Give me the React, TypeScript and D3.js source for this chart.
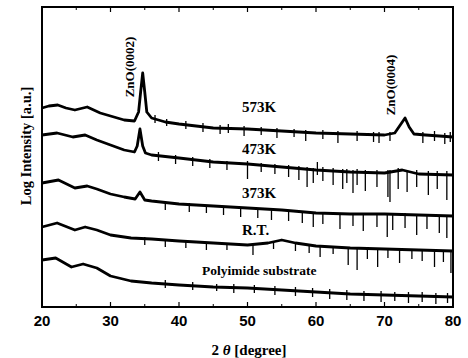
import React from 'react';
import * as d3 from 'd3';

// [2theta, log intensity (a.u.)]
const k573: [number, number][] = [
  [20, 199], [21, 201], [22.3, 202], [23.5, 199], [24.8, 197], [26.6, 200], [28.5, 194],
  [30, 191], [32, 187], [33.5, 186], [34.1, 195], [34.4, 215], [34.7, 234], [35.0, 215],
  [35.3, 195], [36, 189], [38, 185], [40, 183], [45, 179], [50, 178], [55, 176], [60, 174],
  [65, 173], [70, 172], [71.5, 174], [72.3, 182], [73.0, 189], [73.6, 180], [74.3, 173],
  [76, 172], [78, 171], [80, 170],
];
const k473: [number, number][] = [
  [20, 172], [22.2, 174], [24.5, 170], [26.3, 172], [28, 167], [30, 162], [32, 157],
  [33.5, 155], [33.9, 161], [34.3, 178], [34.7, 161], [35.1, 154], [36, 152], [40, 149],
  [45, 145], [50, 143], [55, 140], [60, 137], [65, 135], [70, 134], [72.6, 137], [75, 133],
  [80, 132],
];
const k373: [number, number][] = [
  [20, 124], [22.4, 127], [24.8, 119], [26.6, 121], [28, 118], [30, 113], [32, 110],
  [33.6, 108], [34.3, 115], [35, 107], [36, 106], [40, 103], [45, 101], [50, 99], [55, 97],
  [60, 94], [65, 93], [70, 93], [75, 92], [80, 91],
];
const roomTemp: [number, number][] = [
  [20, 80], [22.2, 84], [24.8, 77], [26.3, 80], [28, 77], [30, 72], [33, 69], [36, 68],
  [40, 66], [45, 64], [50, 62], [53, 64], [55, 67], [57, 64], [60, 61], [65, 59], [70, 58],
  [75, 57], [80, 56],
];
const polyimide: [number, number][] = [
  [20, 47], [22, 49], [24.3, 40], [26, 43], [28, 39], [30, 31], [33, 26], [36, 24],
  [40, 22], [45, 20], [50, 19], [55, 17], [60, 15], [65, 13], [70, 12], [75, 11], [80, 10],
];

// noise spikes: [2theta, low, high]
const spikes573: [number, number, number][] = [
  [36.5, 184, 192], [38.2, 181, 188], [41, 178, 186], [43.5, 175, 184], [46, 173, 182],
  [47.2, 174, 183], [49.5, 171, 181], [52, 172, 180], [54.3, 169, 179], [56.8, 170, 178],
  [58.5, 166, 177], [61, 168, 177], [63.2, 164, 176], [66, 166, 176], [68.4, 165, 175],
  [69.2, 164, 175], [70.8, 166, 175], [75.6, 164, 175], [77.3, 166, 176], [78.8, 163, 174],
  [79.6, 165, 175],
];
const spikes473: [number, number, number][] = [
  [37, 146, 155], [39.5, 143, 152], [42, 141, 150], [44.5, 139, 148], [47, 137, 146],
  [50, 128, 146], [52, 135, 144], [54, 133, 143], [56, 130, 142], [57.5, 127, 141],
  [58.7, 120, 140], [59.6, 124, 139], [60.2, 132, 145], [61, 126, 140], [62.5, 122, 139],
  [63.9, 118, 138], [64.5, 124, 138], [65.4, 114, 137], [66, 122, 138], [67.2, 116, 137],
  [68.9, 120, 137], [70.5, 110, 137], [70.8, 105, 137], [72, 118, 139], [73.3, 115, 137],
  [74.7, 120, 137], [76.4, 112, 136], [77.7, 118, 136], [79.1, 107, 136],
];
const spikes373: [number, number, number][] = [
  [38, 97, 106], [41.5, 95, 104], [44, 94, 102], [46.5, 92, 101], [49, 90, 100],
  [51.5, 89, 99], [53.5, 87, 98], [56, 86, 97], [58, 84, 96], [59.6, 80, 95], [61, 83, 95],
  [63.5, 78, 94], [65.4, 81, 94], [66.9, 76, 94], [68.9, 80, 94], [70.4, 70, 93],
  [71.2, 77, 93], [73, 79, 94], [74.7, 72, 92], [76.2, 78, 92], [78, 74, 92], [79.1, 69, 91],
];
const spikesRT: [number, number, number][] = [
  [35, 62, 70], [38, 60, 68], [41, 59, 67], [44, 57, 65], [47, 57, 64], [50.8, 52, 63],
  [53.8, 58, 66], [57, 56, 65], [59, 54, 62], [60.6, 50, 62], [62.5, 53, 61], [64.7, 42, 60],
  [66, 37, 60], [67.5, 48, 60], [69, 40, 59], [70.5, 49, 59], [72.2, 44, 58], [74, 48, 58],
  [75.5, 46, 57], [77.3, 40, 57], [78.6, 45, 57], [79.7, 34, 56],
];
const spikesPoly: [number, number, number][] = [
  [38, 19, 27], [42, 17, 25], [45.5, 16, 23], [48, 14, 23], [51, 14, 22], [54, 12, 21],
  [57, 11, 20], [59.5, 10, 19], [62, 8, 18], [64.5, 7, 17], [67, 6, 16], [69.5, 5, 16],
  [71.5, 6, 15], [73.5, 4, 15], [75.5, 5, 15], [77.5, 3, 14], [79.2, 4, 14],
];

const seriesLabels = ['573K', '473K', '373K', 'R.T.', 'Polyimide substrate'];
const labelPos: [number, number][] = [[242, 112], [242, 154], [242, 198], [242, 235], [202, 275]];
const xTicks = [20, 30, 40, 50, 60, 70, 80];
const xMinor = [25, 35, 45, 55, 65, 75];

const W = 468;
const H = 358;
const L = 42, R = 453, T = 7, B = 307;

export default function App() {
  const x = d3.scaleLinear().domain([20, 80]).range([L, R]);
  const y = d3.scaleLinear().domain([0, 300]).range([B, T]);
  const line = d3.line<[number, number]>().x((d) => x(d[0])).y((d) => y(d[1]));
  const series = [k573, k473, k373, roomTemp, polyimide];
  const spikes = [spikes573, spikes473, spikes373, spikesRT, spikesPoly];
  const serif = '"Liberation Serif", "DejaVu Serif", serif';

  return (
    <svg width={W} height={H} style={{ position: 'absolute', left: 0, top: 0, background: '#fff' }}>
      {series.map((s, i) => (
        <path key={'s' + i} d={line(s) || ''} fill="none" stroke="#000" strokeWidth={2.8} strokeLinejoin="round" />
      ))}
      {spikes.map((sp, i) =>
        sp.map((d, j) => (
          <line key={'k' + i + '-' + j} x1={x(d[0])} x2={x(d[0])} y1={y(d[1])} y2={y(d[2])} stroke="#000" strokeWidth={1.3} />
        ))
      )}
      {/* frame */}
      <rect x={L} y={T} width={R - L} height={B - T} fill="none" stroke="#000" strokeWidth={2} />
      {xTicks.map((t) => (
        <g key={'t' + t}>
          <line x1={x(t)} x2={x(t)} y1={B} y2={B - 5} stroke="#000" strokeWidth={1.2} />
          <line x1={x(t)} x2={x(t)} y1={T} y2={T + 5} stroke="#000" strokeWidth={1.2} />
          <text x={x(t)} y={326} textAnchor="middle" fontFamily='"Liberation Sans", Arial, sans-serif' fontWeight="bold" fontSize={15}>
            {t}
          </text>
        </g>
      ))}
      {xMinor.map((t) => (
        <g key={'m' + t}>
          <line x1={x(t)} x2={x(t)} y1={B} y2={B - 3} stroke="#000" strokeWidth={1} />
          <line x1={x(t)} x2={x(t)} y1={T} y2={T + 3} stroke="#000" strokeWidth={1} />
        </g>
      ))}
      <text x={249} y={355} textAnchor="middle" fontFamily={serif} fontWeight="bold" fontSize={15}>
        2 <tspan fontStyle="italic">θ</tspan> [degree]
      </text>
      <text transform="translate(31,146) rotate(-90)" textAnchor="middle" fontFamily={serif} fontWeight="bold" fontSize={14.5}>
        Log Intensity [a.u.]
      </text>
      <text transform="translate(134,67) rotate(-90)" textAnchor="middle" fontFamily={serif} fontWeight="bold" fontSize={13}>
        ZnO(0002)
      </text>
      <text transform="translate(395,85) rotate(-90)" textAnchor="middle" fontFamily={serif} fontWeight="bold" fontSize={13}>
        ZnO(0004)
      </text>
      {seriesLabels.map((lab, i) => (
        <text key={lab} x={labelPos[i][0]} y={labelPos[i][1]} fontFamily={serif} fontWeight="bold" fontSize={i === 4 ? 13.5 : 15}>
          {lab}
        </text>
      ))}
    </svg>
  );
}
